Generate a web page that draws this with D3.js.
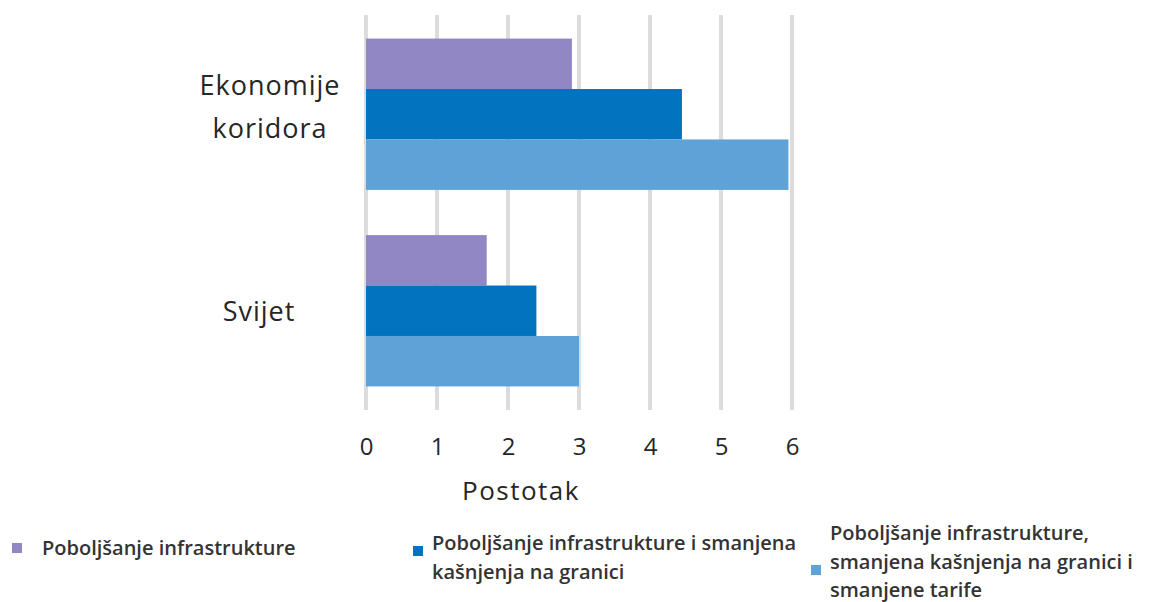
<!DOCTYPE html>
<html>
<head>
<meta charset="utf-8">
<script src="https://cdn.jsdelivr.net/npm/d3@7"></script>
<style>
  body { margin: 0; background: #fff; }
  text { font-family: "Open Sans", sans-serif; fill: #262626; }
</style>
</head>
<body>
<svg id="chart"></svg>
<script>
var categories = ["Ekonomije koridora", "Svijet"];
var seriesNames = [
  "Poboljšanje infrastrukture",
  "Poboljšanje infrastrukture i smanjena kašnjenja na granici",
  "Poboljšanje infrastrukture, smanjena kašnjenja na granici i smanjene tarife"
];
var infra = [2.9, 1.7];
var infraDelays = [4.45, 2.4];
var infraDelaysTariffs = [5.95, 3.0];
var ticks = [0, 1, 2, 3, 4, 5, 6];

var colors = ["#9187c4", "#0274bf", "#5fa2d7"];
var width = 1150, height = 602;

var svg = d3.select("#chart")
  .attr("width", width)
  .attr("height", height);

var x = d3.scaleLinear().domain([0, 6]).range([366, 792]);
var y = d3.scaleBand().domain(categories).range([15, 410]).paddingInner(0.23).paddingOuter(0.12);
var ySub = d3.scaleBand().domain([0, 1, 2]).range([0, y.bandwidth()]);

// gridlines
svg.append("g")
  .selectAll("line")
  .data(ticks).enter()
  .append("line")
    .attr("x1", function(d) { return x(d); })
    .attr("x2", function(d) { return x(d); })
    .attr("y1", 15)
    .attr("y2", 410)
    .attr("stroke", "#dcdcdc")
    .attr("stroke-width", 4);

var series = [infra, infraDelays, infraDelaysTariffs];

// bars
series.forEach(function(vals, s) {
  svg.append("g")
    .selectAll("rect")
    .data(vals).enter()
    .append("rect")
      .attr("x", x(0))
      .attr("y", function(d, i) { return y(categories[i]) + ySub(s); })
      .attr("width", function(d) { return x(d) - x(0); })
      .attr("height", ySub.bandwidth())
      .attr("fill", colors[s]);
});

// x tick labels
var xAxis = d3.axisBottom(x).tickValues(ticks).tickFormat(d3.format("d")).tickSize(0).tickPadding(0);
var gx = svg.append("g")
  .attr("transform", "translate(0,438)")
  .call(xAxis);
gx.select(".domain").remove();
gx.selectAll("text")
  .attr("font-size", 24)
  .attr("font-family", "Open Sans, sans-serif")
  .attr("fill", "#262626")
  .attr("dy", "0.71em");

// axis title
svg.append("text")
  .attr("x", 521)
  .attr("y", 500)
  .attr("text-anchor", "middle")
  .attr("font-size", 26)
  .attr("letter-spacing", 1.5)
  .text("Postotak");

// category labels
var catLines = [["Ekonomije", "koridora"], ["Svijet"]];
categories.forEach(function(c, i) {
  var lines = catLines[i];
  var cy = y(c) + y.bandwidth() / 2 - (i === 0 ? 8 : 0);
  var t = svg.append("text")
    .attr("text-anchor", "middle")
    .attr("font-size", 27)
    .attr("letter-spacing", 1);
  lines.forEach(function(l, j) {
    t.append("tspan")
      .attr("x", i === 0 ? 270 : 259)
      .attr("y", cy + (j - (lines.length - 1) / 2) * 43 + 10)
      .text(l);
  });
});

// legend
var legendItems = [
  { mx: 12, my: 543, tx: 42, lines: ["Poboljšanje infrastrukture"], ty: 555 },
  { mx: 413, my: 546, tx: 432, lines: ["Poboljšanje infrastrukture i smanjena", "kašnjenja na granici"], ty: 550 },
  { mx: 811, my: 565, tx: 830, lines: ["Poboljšanje infrastrukture,", "smanjena kašnjenja na granici i", "smanjene tarife"], ty: 540 }
];
legendItems.forEach(function(d, i) {
  svg.append("rect")
    .attr("x", d.mx).attr("y", d.my)
    .attr("width", 10).attr("height", 10)
    .attr("fill", colors[i]);
  var t = svg.append("text")
    .attr("font-size", 20)
    .attr("font-weight", 600)
    .style("fill", "#333");
  d.lines.forEach(function(l, j) {
    t.append("tspan").attr("x", d.tx).attr("y", d.ty + j * 28.5).text(l);
  });
});
</script>
</body>
</html>
